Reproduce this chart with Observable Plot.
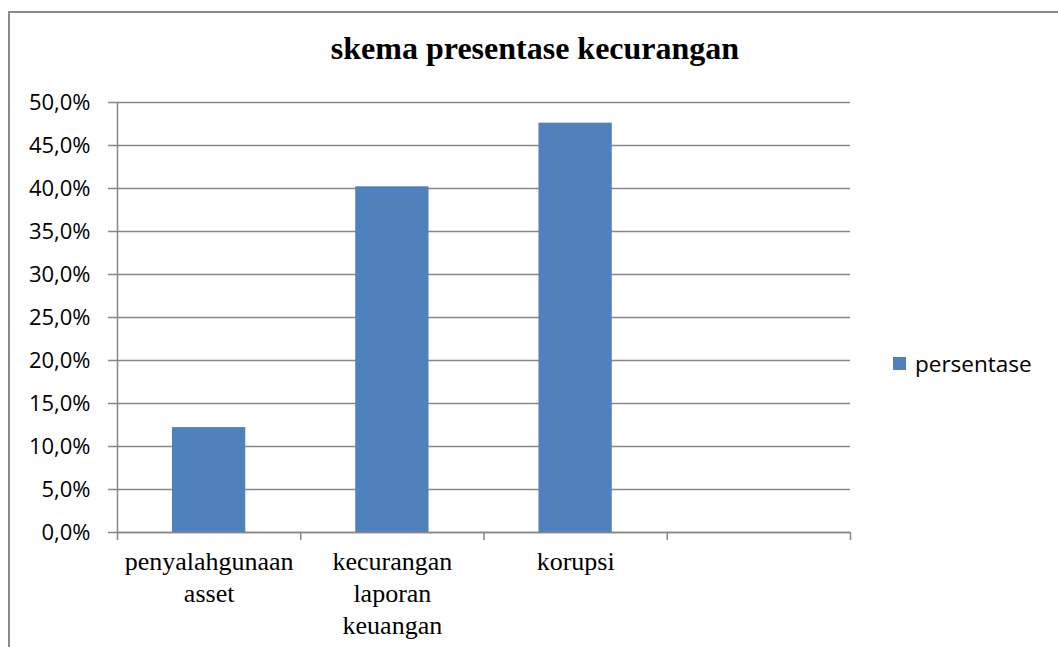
<!DOCTYPE html>
<html>
<head>
<meta charset="utf-8">
<script src="https://cdn.jsdelivr.net/npm/d3@7"></script>
<script src="https://cdn.jsdelivr.net/npm/@observablehq/plot@0.6"></script>
<style>
  html, body { margin: 0; padding: 0; background: #fff; }
  #wrap { position: relative; width: 1058px; height: 647px; overflow: hidden; }
  #frame { position: absolute; left: 8px; top: 11px; width: 1100px; height: 700px; border: 2px solid #8a8a8a; box-sizing: border-box; }
  #title { position: absolute; left: 0; width: 1070px; top: 30px; text-align: center; font-family: "Liberation Serif", "Times New Roman", serif; font-weight: bold; font-size: 32px; color: #000; }
  #legend { position: absolute; left: 893px; top: 348px; font-family: "Open Sans", sans-serif; font-size: 22.5px; color: #000; display: flex; align-items: center; }
  #legend .sw { width: 13px; height: 13px; background: #4f81bd; margin-right: 9px; }
  #chart { position: absolute; left: 0; top: 0; }
</style>
</head>
<body>
<div id="wrap">
  <div id="frame"></div>
  <div id="chart"></div>
  <div id="title">skema presentase kecurangan</div>
  <div id="legend"><div class="sw"></div><span>persentase</span></div>
</div>
<script>
const categories = ["penyalahgunaan\nasset", "kecurangan\nlaporan\nkeuangan", "korupsi", ""];
const seriesName = "persentase";
const values = [0.122, 0.402, 0.476];
const yTicks = [0, 0.05, 0.10, 0.15, 0.20, 0.25, 0.30, 0.35, 0.40, 0.45, 0.50];

const bars = values.map((v, i) => ({i, value: v, category: categories[i]}));
const labels = categories.map((c, i) => ({i, text: c}));
const bounds = d3.range(categories.length + 1);

const fmt = v => (v * 100).toFixed(1).replace(".", ",") + "%";
const gray = "#878787";

const chart = Plot.plot({
  width: 1058,
  height: 647,
  marginLeft: 117,
  marginRight: 208,
  marginTop: 102,
  marginBottom: 115,
  style: {background: "transparent", fontFamily: "'Open Sans', sans-serif"},
  x: {type: "linear", domain: [0, categories.length], axis: null},
  y: {domain: [0, 0.5], axis: null},
  marks: [
    Plot.ruleY(yTicks, {y: d => d, stroke: gray, strokeWidth: 1.5}),
    Plot.rectY(bars, {x1: d => d.i + 0.3, x2: d => d.i + 0.7, y1: 0, y2: "value", fill: "#4f81bd"}),
    Plot.ruleX([0], {stroke: gray, strokeWidth: 1.5}),
    Plot.ruleY([0], {stroke: gray, strokeWidth: 1.5}),
    Plot.axisY({ticks: yTicks, tickFormat: fmt, tickSize: 9, tickPadding: 18, label: null, stroke: gray, strokeWidth: 1.5, fontSize: 22, fill: "#000", strokeOpacity: 1}),
    Plot.axisX({ticks: bounds, tickSize: 8, tickFormat: () => "", label: null, stroke: gray, strokeWidth: 1.5, strokeOpacity: 1}),
    Plot.text(labels, {x: d => d.i + 0.5, y: 0, text: "text", dy: 15, lineAnchor: "top", fontFamily: "'Liberation Serif', 'Times New Roman', serif", fontSize: 26, fill: "#000", lineHeight: 1.23})
  ]
});
document.getElementById("chart").appendChild(chart);
</script>
</body>
</html>
